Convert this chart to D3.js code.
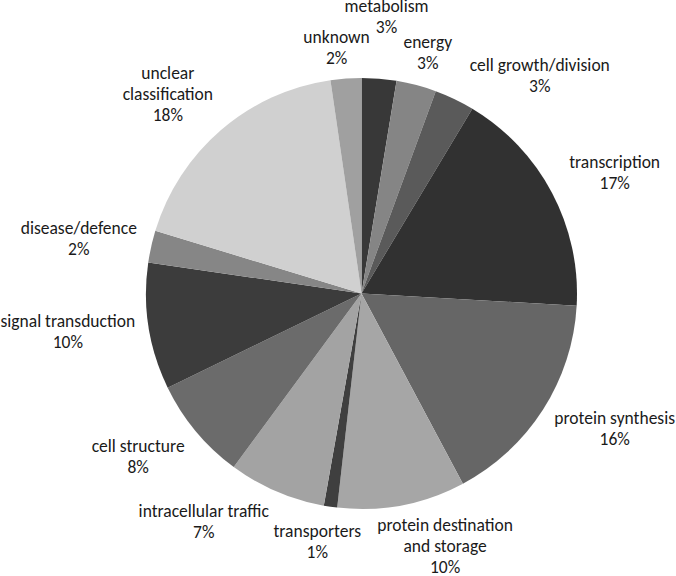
<!DOCTYPE html>
<html>
<head>
<meta charset="utf-8">
<script src="https://cdn.jsdelivr.net/npm/d3@7"></script>
<style>
  html, body { margin: 0; padding: 0; background: #fff; }
  svg text { font-family: Carlito, Lato, "Open Sans", sans-serif; font-size: 17.5px; fill: #1a1a1a; }
</style>
</head>
<body>
<script>
// slice data, clockwise from 12 o'clock
const categories = [
    "metabolism", "energy", "cell growth/division", "transcription",
    "protein synthesis", "protein destination and storage", "transporters",
    "intracellular traffic", "cell structure", "signal transduction",
    "disease/defence", "unclear classification", "unknown"
];
const shares = [2.6, 3.0, 3.0, 17.3, 16.3, 9.6, 1.0, 7.3, 7.7, 9.5, 2.4, 18.0, 2.3];

// how each label is broken over lines
const labelLines = [
    ["metabolism"], ["energy"], ["cell growth/division"], ["transcription"],
    ["protein synthesis"], ["protein destination", "and storage"], ["transporters"],
    ["intracellular traffic"], ["cell structure"], ["signal transduction"],
    ["disease/defence"], ["unclear", "classification"], ["unknown"]
];

const greys = [
    "#383838", "#858585", "#5a5a5a", "#313131", "#666666", "#a6a6a6", "#3f3f3f",
    "#a3a3a3", "#6b6b6b", "#3c3c3c", "#868686", "#d0d0d0", "#a0a0a0"
];

// label placement: [angle shift from slice middle (deg), distance from centre]
const labelPlace = [
    [0.6, 272], [1.0, 244], [14.5, 277], [3.5, 278], [-3.4, 290], [-7.1, 272], [1.6, 258],
    [10.8, 282], [2.7, 280], [0.3, 297], [-2.7, 287], [-4.3, 274], [-1.8, 241]
];

function renderPie() {
    let w = 676,
        h = 576,
        cx = 361.5,
        cy = 293.5,
        r = 215.5,
        lineH = 21;

    let svg = d3.select("body").append("svg")
        .attr("width", w)
        .attr("height", h);

    let colour = d3.scaleOrdinal(categories, greys);

    let pie = d3.pie()
        .sort(null)
        .value(function (d) { return d.value; });

    let arcs = pie(categories.map(function (c, i) {
        return { name: c, value: shares[i], index: i };
    }));

    let total = d3.sum(shares);

    let arc = d3.arc()
        .innerRadius(0)
        .outerRadius(r);

    let g = svg.append("g")
        .attr("transform", "translate(" + cx + "," + cy + ")");

    g.selectAll("path.slice")
        .data(arcs)
        .enter()
        .append("path")
        .attr("class", "slice")
        .attr("d", arc)
        .attr("fill", function (d) { return colour(d.data.name); });

    g.selectAll("text.label")
        .data(arcs)
        .enter()
        .append("text")
        .attr("class", "label")
        .attr("text-anchor", "middle")
        .each(function (d) {
            let i = d.data.index;
            let a = (d.startAngle + d.endAngle) / 2 + labelPlace[i][0] * Math.PI / 180;
            let lr = labelPlace[i][1];
            let x = Math.sin(a) * lr,
                y = -Math.cos(a) * lr;
            let lines = labelLines[i].concat([Math.round(d.data.value / total * 100) + "%"]);
            let n = lines.length;
            let t = d3.select(this);
            lines.forEach(function (s, k) {
                t.append("tspan")
                    .attr("x", x)
                    .attr("y", y + (k - (n - 1) / 2) * lineH)
                    .text(s);
            });
        });
}

renderPie();
</script>
</body>
</html>
